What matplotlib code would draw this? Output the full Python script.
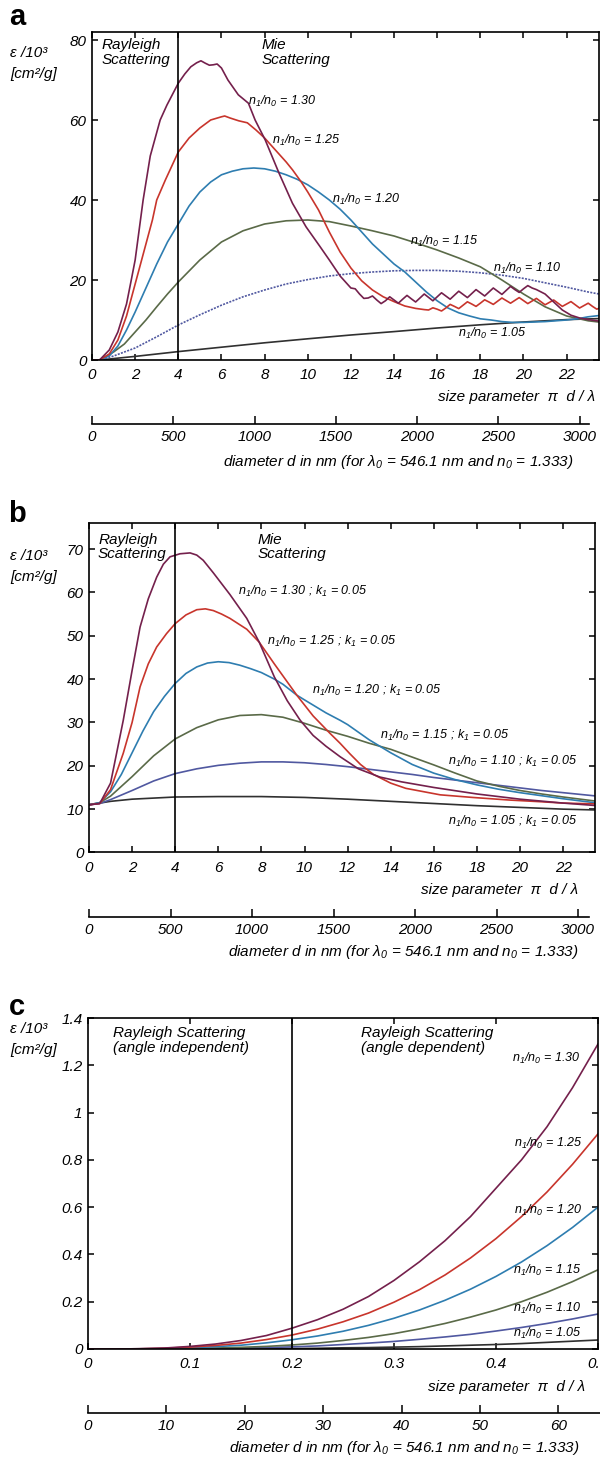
import matplotlib.pyplot as plt
from matplotlib.ticker import FuncFormatter

plt.rcParams['font.family'] = ['Liberation Sans', 'DejaVu Sans']
plt.rcParams['font.style'] = 'italic'
plt.rcParams['mathtext.fontset'] = 'custom'
plt.rcParams['mathtext.rm'] = 'Liberation Sans:italic'
plt.rcParams['mathtext.it'] = 'Liberation Sans:italic'

# ---------------- panel a : non-absorbing particles ----------------
a_x_130 = [0, 0.35, 0.8, 1.2, 1.6, 1.82, 2.0, 2.37, 2.7, 3.16, 3.47, 4.0, 4.3, 4.58, 4.85, 5.05,
           5.25, 5.44, 5.62, 5.8, 6.0, 6.3, 6.78, 7.25, 7.56, 8.03, 8.67, 9.29, 9.92, 10.55, 11.0, 11.5,
           12.0, 12.2, 12.4, 12.6, 12.8, 13.0, 13.2, 13.4, 13.6, 13.8, 14.0, 14.2, 14.4, 14.6, 14.8,
           15.0, 15.2, 15.4, 15.6, 15.8, 16.0, 16.2, 16.4, 16.6, 16.8, 17.0, 17.2, 17.4, 17.6, 17.8,
           18.0, 18.2, 18.4, 18.6, 18.8, 19.0, 19.2, 19.4, 19.6, 19.8, 20.0, 20.2, 20.4, 20.6,
           21.0, 21.4, 21.8, 22.2, 22.6, 23.0, 23.4, 23.8]
a_y_130 = [0, 0, 2.5, 7, 14, 20, 25, 40, 51, 60, 63.7, 69.2, 71.5, 73.3, 74.3, 74.8,
           74.2, 73.7, 73.8, 74.0, 73.0, 70, 66.3, 64.2, 60, 55, 46.7, 39.2, 33.3, 28.5, 25, 21,
           18.0, 17.8, 16.5, 15.4, 15.5, 16.0, 15.0, 14.1, 14.8, 15.8, 15.0, 14.2, 15.2, 16.15, 15.3,
           14.5, 15.5, 16.5, 15.65, 14.8, 15.8, 16.8, 16.0, 15.2, 16.2, 17.2, 16.4, 15.6, 16.6, 17.6,
           16.8, 16.0, 17.0, 18.0, 17.2, 16.4, 17.4, 18.4, 17.6, 16.9, 17.8, 18.6, 18.0, 17.6,
           16.5, 14.5, 12.5, 11.2, 10.5, 10.1, 9.8, 9.5]

a_x_125 = [0, 0.35, 0.8, 1.2, 1.6, 2.05, 2.4, 2.8, 3.0, 3.4, 4.0, 4.5, 5.0, 5.5, 6.0, 6.15, 6.4,
           6.8, 7.2, 7.6, 8.0, 8.5, 9.0, 9.3, 9.7, 10.0, 10.5, 11.0, 11.5, 12.0, 12.5, 13.0, 13.5,
           14.0, 14.5, 15.0, 15.4,
           15.6, 15.8, 16.0, 16.2, 16.4, 16.6, 16.8, 17.0, 17.2, 17.4, 17.6, 17.8, 18.0, 18.2, 18.4,
           18.6, 18.8, 19.0, 19.2, 19.4, 19.6, 19.8, 20.0, 20.2, 20.4, 20.6, 20.8, 21.0, 21.2, 21.4,
           21.6, 21.8, 22.0, 22.2, 22.4, 22.6, 22.8, 23.0, 23.2, 23.4, 23.6, 23.8]
a_y_125 = [0, 0, 1.5, 5, 11, 20, 27, 35, 40, 45, 52, 55.5, 58, 60, 60.8, 61, 60.5,
           59.8, 59.3, 57.5, 55.5, 52.5, 49.5, 47.5, 44.5, 42, 37.5, 32, 27, 23, 19.8, 17.5, 15.8,
           14.6, 13.5, 12.9, 12.6,
           12.5, 13.05, 12.7, 12.25, 13.0, 13.9, 13.4, 12.85, 13.7, 14.55, 14.0, 13.4, 14.2, 15.05, 14.5,
           13.9, 14.7, 15.5, 14.85, 14.2, 14.9, 15.6, 14.85, 14.1, 14.75, 15.4, 14.6, 13.8, 14.4, 15.0,
           14.2, 13.4, 14.0, 14.6, 13.8, 13.0, 13.6, 14.2, 13.4, 12.7, 13.2, 13.6]

a_x_120 = [0, 0.35, 0.8, 1.2, 1.6, 2.0, 2.5, 3.0, 3.5, 4.0, 4.5, 5.0, 5.5, 6.0, 6.5, 7.0, 7.5, 8.0,
           8.5, 9.0, 9.5, 10.0, 10.5, 11.0, 11.5, 12.0, 12.5, 13.0, 13.5, 14.0, 14.5, 15.0, 15.5, 16.0,
           16.5, 17.0, 17.5, 18.0, 18.5, 19.0, 19.5, 20.0, 20.5, 21.0, 21.5, 22.0, 22.5, 23.0, 23.8]
a_y_120 = [0, 0, 1, 3.5, 7.5, 12, 18, 24, 29.5, 34, 38.5, 42, 44.5, 46.3, 47.2, 47.8, 48.0, 47.8,
           47.2, 46.3, 45.2, 43.8, 42, 40, 37.7, 35, 32, 29, 26.5, 24, 22, 19.5, 17, 14.8,
           13, 11.8, 11, 10.3, 10.0, 9.6, 9.4, 9.4, 9.5, 9.6, 9.8, 10.0, 10.3, 10.8, 11.3]

a_x_115 = [0, 0.35, 1.0, 1.5, 2.0, 2.5, 3.0, 3.5, 4.0, 5.0, 6.0, 7.0, 8.0, 9.0, 10.0, 11.0, 12.0,
           13.0, 14.0, 15.0, 16.0, 17.0, 18.0, 19.0, 20.0, 21.0, 22.0, 23.0, 23.8]
a_y_115 = [0, 0, 2, 4, 7, 10, 13.3, 16.5, 19.5, 25, 29.5, 32.3, 34, 34.8, 35, 34.6, 33.5,
           32.3, 31, 29.3, 27.5, 25.5, 23.3, 20, 16.5, 13.3, 11, 9.8, 9.3]

a_x_110 = [0, 0.35, 1, 2, 3, 4, 5, 6, 7, 8, 9, 10, 11, 12, 13, 14, 15, 16, 17, 18, 19, 20, 21,
           22, 23, 23.8]
a_y_110 = [0, 0, 1, 3, 5.8, 8.75, 11.3, 13.7, 15.8, 17.5, 19, 20.1, 21, 21.6, 22, 22.3, 22.4,
           22.4, 22.2, 21.8, 21.2, 20.4, 19.3, 18.2, 17, 16.2]

a_x_105 = [0, 0.35, 2, 4, 6, 8, 10, 12, 14, 16, 18, 20, 22, 23.8]
a_y_105 = [0, 0, 0.9, 2.1, 3.2, 4.3, 5.3, 6.25, 7.1, 8, 8.8, 9.5, 10.1, 10.4]

# ---------------- panel b : weakly absorbing particles (k1 = 0.05) ----------------
b_x_130 = [0, 0.5, 1.0, 1.59, 2.0, 2.37, 2.75, 3.14, 3.45, 3.76, 4.22, 4.69, 5.0, 5.3, 5.77, 6.54,
           7.32, 7.9, 8.6, 9.2, 9.8, 10.4, 11.0, 11.65, 12.5, 13.5, 14.5, 16.0, 18.0, 20.0, 22.0, 23.6]
b_y_130 = [11, 11.3, 16, 30.5, 42, 52, 58.5, 63.5, 66.5, 68.2, 68.9, 69.1, 68.6, 67.4, 64.5, 59.5,
           54, 48.5, 40.5, 35, 30.5, 27, 24.5, 22.1, 19.3, 17.4, 16.3, 15.0, 13.5, 12.3, 11.4, 10.8]

b_x_125 = [0, 0.5, 1.0, 1.59, 2.0, 2.37, 2.75, 3.14, 3.6, 4.0, 4.5, 5.0, 5.4, 5.77, 6.15, 6.54,
           7.32, 7.9, 8.6, 9.64, 10.4, 11.18, 11.65, 12.1, 12.6, 13.2, 14.0, 14.7, 16.3, 17.8, 19.5,
           21.0, 22.0, 23.6]
b_y_125 = [11, 11.3, 14.5, 22.9, 30, 38.2, 43.5, 47.4, 50.5, 52.8, 54.8, 56.0, 56.2, 55.8, 55, 54,
           51.5, 48.5, 43.5, 36.3, 31.5, 27.5, 25.2, 22.8, 20.3, 18, 16, 14.8, 13.3, 12.7, 12.1,
           11.7, 11.4, 11.2]

b_x_120 = [0, 0.5, 1, 1.5, 2, 2.5, 3, 3.5, 4, 4.5, 5, 5.5, 6, 6.5, 7, 7.5, 8, 8.6, 9.0, 9.64,
           10, 10.5, 11, 11.65, 12, 13, 14, 15, 16, 17, 18, 19, 20, 21, 22, 23.6]
b_y_120 = [11, 11.5, 14, 18, 23, 28, 32.5, 36, 39, 41.3, 42.8, 43.7, 44, 43.8, 43.2, 42.4, 41.5,
           40, 38.8, 36.3, 35.2, 33.7, 32.2, 30.5, 29.5, 26, 23, 20.3, 18.3, 16.8, 15.6, 14.6,
           13.8, 13.1, 12.4, 11.4]

b_x_115 = [0, 0.5, 1, 2, 3, 4, 5, 6, 7, 8, 9, 10, 11, 12, 13, 14, 15, 16, 17, 18, 19, 20, 21,
           22, 23.6]
b_y_115 = [11, 11.5, 13, 17.5, 22.3, 26.2, 28.8, 30.6, 31.6, 31.8, 31.2, 29.8, 28.2, 26.8, 25.2,
           23.8, 22, 20.2, 18.3, 16.5, 15.3, 14.3, 13.5, 12.8, 11.8]

b_x_110 = b_x_115
b_y_110 = [11, 11.3, 12.2, 14.3, 16.5, 18.2, 19.3, 20.1, 20.6, 20.9, 20.9, 20.7, 20.3, 19.8, 19.2,
           18.6, 18, 17.3, 16.7, 16.1, 15.5, 14.9, 14.3, 13.8, 13.0]

b_x_105 = [0, 0.5, 1, 2, 4, 6, 8, 10, 12, 14, 16, 18, 20, 22, 23.6]
b_y_105 = [11, 11.4, 11.8, 12.3, 12.8, 12.9, 12.9, 12.7, 12.3, 11.8, 11.3, 10.8, 10.4, 10.0, 9.8]

# ---------------- panel c : small size parameters ----------------
c_x = [0, 0.025, 0.05, 0.075, 0.1, 0.125, 0.15, 0.175, 0.2, 0.225, 0.25, 0.275, 0.3, 0.325,
       0.35, 0.375, 0.4, 0.425, 0.45, 0.475, 0.5]
c_y_130 = [0, 0.000, 0.001, 0.004, 0.011, 0.021, 0.036, 0.057, 0.088, 0.124, 0.168, 0.222, 0.290,
           0.369, 0.458, 0.560, 0.680, 0.800, 0.940, 1.105, 1.290]
c_y_125 = [0, 0.000, 0.001, 0.003, 0.008, 0.015, 0.025, 0.040, 0.059, 0.084, 0.115, 0.152, 0.198,
           0.251, 0.313, 0.385, 0.467, 0.560, 0.664, 0.781, 0.910]
c_y_120 = [0, 0.000, 0.001, 0.002, 0.005, 0.010, 0.016, 0.026, 0.039, 0.055, 0.075, 0.100, 0.130,
           0.165, 0.206, 0.253, 0.307, 0.368, 0.437, 0.514, 0.600]
c_y_115 = [0, 0, 0, 0.001, 0.002, 0.004, 0.007, 0.011, 0.017, 0.025, 0.036, 0.049, 0.065, 0.085,
           0.108, 0.135, 0.165, 0.200, 0.240, 0.285, 0.335]
c_y_110 = [0, 0, 0, 0.001, 0.001, 0.002, 0.004, 0.006, 0.009, 0.013, 0.019, 0.025, 0.032, 0.041,
           0.051, 0.062, 0.076, 0.091, 0.108, 0.127, 0.148]
c_y_105 = [0, 0, 0, 0, 0, 0.001, 0.001, 0.002, 0.002, 0.003, 0.005, 0.006, 0.008, 0.010, 0.013,
           0.016, 0.019, 0.023, 0.028, 0.033, 0.038]

ratios = ['1.30', '1.25', '1.20', '1.15', '1.10', '1.05']
colors = ['#74204c', '#c8352c', '#2e7db0', '#5a6a48', '#5058a0', '#303030']

# label anchors (left edge, vertical centre) in data units
a_lab_x = [7.23, 8.33, 11.11, 14.74, 18.6, 16.98]
a_lab_y = [64.6, 55, 40.2, 29.6, 22.9, 6.7]
b_lab_x = [6.93, 8.26, 10.33, 13.5, 16.66, 16.66]
b_lab_y = [60.1, 48.6, 37.4, 27.1, 20.9, 7.1]
c_lab_x = [0.416, 0.418, 0.418, 0.417, 0.417, 0.417]
c_lab_y = [1.23, 0.87, 0.585, 0.333, 0.171, 0.066]

W, H = 600, 1460
fig = plt.figure(figsize=(W / 100, H / 100), dpi=100)


def box(l, t, r, b):
    return [l / W, 1 - b / H, (r - l) / W, (b - t) / H]


def pos(x, y):
    return x / W, 1 - y / H


fmt = FuncFormatter(lambda v, p: f'{v:g}')


def style(ax, xlim, ylim, xticks, yticks):
    ax.set_xlim(xlim)
    ax.set_ylim(ylim)
    ax.set_xticks(xticks)
    ax.set_yticks(yticks)
    ax.xaxis.set_major_formatter(fmt)
    ax.yaxis.set_major_formatter(fmt)
    ax.tick_params(direction='in', top=True, right=True, length=4.5, width=1.1, labelsize=11)
    ax.tick_params(axis='x', pad=6)
    ax.tick_params(axis='y', pad=4)
    for s in ax.spines.values():
        s.set_linewidth(1.2)


def nm_axis(x0, x1, y, dmax, ticks):
    n = fig.add_axes(box(x0, y - 0.5, x1, y + 0.5))
    n.set_xlim(0, dmax)
    n.set_xticks(ticks)
    n.set_yticks([])
    n.patch.set_visible(False)
    for s in ['left', 'right', 'top']:
        n.spines[s].set_visible(False)
    n.spines['bottom'].set_linewidth(1.2)
    n.tick_params(axis='x', direction='in', length=6, width=1.1, labelsize=11, pad=5)
    return n


diam_label = 'diameter d in nm (for λ$_0$ = 546.1 nm and n$_0$ = 1.333)'
size_label = 'size parameter  π  d / λ'


def common(letter, letter_y, eps_y, size_xy, diam_xy):
    fig.text(*pos(17, letter_y), letter, fontsize=21, fontweight='bold', fontstyle='normal',
             ha='center', va='center')
    fig.text(*pos(10, eps_y), 'ε /10³', fontsize=11, ha='left', va='center')
    fig.text(*pos(10, eps_y + 21), '[cm²/g]', fontsize=11, ha='left', va='center')
    fig.text(*pos(*size_xy), size_label, fontsize=11, ha='right', va='center')
    fig.text(*pos(*diam_xy), diam_label, fontsize=11, ha='center', va='center')


# ---- a ----
ax = fig.add_axes(box(92, 32, 599, 360))
style(ax, (0, 23.5), (0, 82), range(0, 23, 2), range(0, 81, 20))
curves_a = [(a_x_130, a_y_130), (a_x_125, a_y_125), (a_x_120, a_y_120),
            (a_x_115, a_y_115), (a_x_110, a_y_110), (a_x_105, a_y_105)]
for (xs, ys), c, r in zip(curves_a[::-1], colors[::-1], ratios[::-1]):
    # the 1.10 curve is printed as a fine dotted trace
    ls = (0, (1.2, 0.8)) if r == '1.10' else '-'
    ax.plot(xs, ys, color=c, lw=1.2, ls=ls)
ax.axvline(4, color='black', lw=1.2)
ax.text(0.45, 80.5, 'Rayleigh\nScattering', fontsize=11, va='top', ha='left', linespacing=1.05)
ax.text(7.87, 80.5, 'Mie\nScattering', fontsize=11, va='top', ha='left', linespacing=1.05)
for r, x, y in zip(ratios, a_lab_x, a_lab_y):
    ax.text(x, y, f'n$_1$/n$_0$ = {r}', fontsize=9, ha='left', va='center')
common('a', 17, 53, (595, 397), (398, 462))
nm_axis(92, 589, 423, 3057, range(0, 3001, 500))

# ---- b ----
ax = fig.add_axes(box(89, 523, 595, 852.5))
style(ax, (0, 23.48), (0, 76), range(0, 23, 2), range(0, 71, 10))
curves_b = [(b_x_130, b_y_130), (b_x_125, b_y_125), (b_x_120, b_y_120),
            (b_x_115, b_y_115), (b_x_110, b_y_110), (b_x_105, b_y_105)]
for (xs, ys), c in zip(curves_b[::-1], colors[::-1]):
    ax.plot(xs, ys, color=c, lw=1.2)
ax.axvline(4, color='black', lw=1.2)
ax.text(0.42, 73.8, 'Rayleigh\nScattering', fontsize=11, va='top', ha='left', linespacing=1.05)
ax.text(7.84, 73.8, 'Mie\nScattering', fontsize=11, va='top', ha='left', linespacing=1.05)
for r, x, y in zip(ratios, b_lab_x, b_lab_y):
    ax.text(x, y, f'n$_1$/n$_0$ = {r} ; k$_1$ = 0.05', fontsize=9, ha='left', va='center')
common('b', 514, 556, (578, 890), (403, 952))
nm_axis(89, 589, 916, 3067, range(0, 3001, 500))

# ---- c ----
ax = fig.add_axes(box(88, 1018, 598, 1349))
style(ax, (0, 0.5), (0, 1.4), [0, 0.1, 0.2, 0.3, 0.4, 0.5], [0, 0.2, 0.4, 0.6, 0.8, 1, 1.2, 1.4])
curves_c = [c_y_130, c_y_125, c_y_120, c_y_115, c_y_110, c_y_105]
for ys, c in zip(curves_c[::-1], colors[::-1]):
    ax.plot(c_x, ys, color=c, lw=1.2)
ax.axvline(0.2, color='black', lw=1.2)
ax.text(0.0245, 1.365, 'Rayleigh Scattering\n(angle independent)', fontsize=11, va='top',
        ha='left', linespacing=1.05)
ax.text(0.268, 1.365, 'Rayleigh Scattering\n(angle dependent)', fontsize=11, va='top',
        ha='left', linespacing=1.05)
for r, x, y in zip(ratios, c_lab_x, c_lab_y):
    ax.text(x, y, f'n$_1$/n$_0$ = {r}', fontsize=9, ha='left', va='center')
common('c', 1007, 1029, (585, 1387), (404, 1448))
nm_axis(88, 600, 1412, 65.3, range(0, 61, 10))

fig.savefig('out.png', dpi=100)
